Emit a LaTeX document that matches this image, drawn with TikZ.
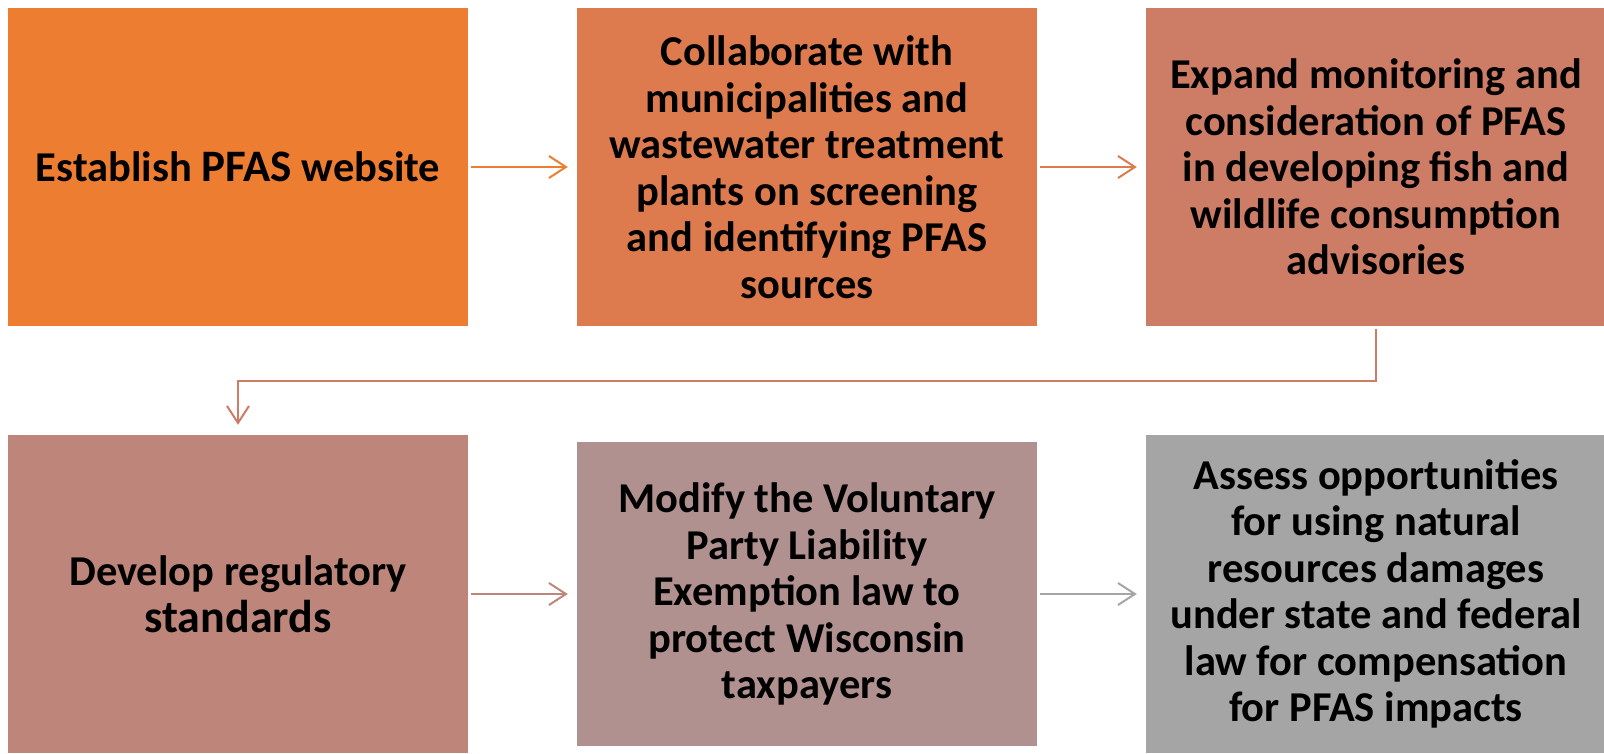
\documentclass[tikz,border=0pt]{standalone}
\usepackage{fontspec}
\setmainfont{Carlito}
\usetikzlibrary{arrows.meta}
\definecolor{cA}{RGB}{237,125,49}
\definecolor{cB}{RGB}{222,123,78}
\definecolor{cC}{RGB}{205,124,102}
\definecolor{cD}{RGB}{190,134,122}
\definecolor{cE}{RGB}{177,145,143}
\definecolor{cF}{RGB}{165,165,165}
\begin{document}
\begin{tikzpicture}[x=1pt,y=-1pt,
  box/.style={fill=#1, draw=none, minimum width=460pt, minimum height=318pt, inner sep=0pt,
    align=center, font=\fontsize{42.5}{46.5}\selectfont\bfseries},
  conn/.style={draw=#1, line width=2pt, -{Straight Barb[length=17pt,width=22pt,line width=2pt]}}]
\useasboundingbox (0,0) rectangle (1604,753);
\node[box=cA] (b1) at (238,167) {Establish {\fontsize{45}{46.5}\selectfont PFAS} website};
\node[box=cB] (b2) at (807,167) {Collaborate with\\municipalities and\\wastewater treatment\\plants on screening\\and identifying PFAS\\sources};
\node[box=cC] (b3) at (1376,167) {Expand monitoring and\\consideration of PFAS\\in developing fish and\\wildlife consumption\\advisories};
\node[box=cD] (b4) at (238,594) {Develop regulatory\\{\fontsize{46}{50}\selectfont standards}};
\node[box=cE, minimum height=304pt] (b5) at (807,594) {Modify the Voluntary\\Party Liability\\Exemption law to\\protect Wisconsin\\taxpayers};
\node[box=cF] (b6) at (1376,594) {Assess opportunities\\for using natural\\resources damages\\under state and federal\\law for compensation\\for PFAS impacts};
\draw[conn=cA, shorten <=3pt, shorten >=9pt] (b1.east) -- (b2.west);
\draw[conn=cB, shorten <=3pt, shorten >=9pt] (b2.east) -- (b3.west);
\coordinate (m1) at (1376,381);
\coordinate (m2) at (238,381);
\draw[conn=cC, shorten <=3pt, shorten >=10pt] (b3.south) -- (m1) -- (m2) -- (b4.north);
\draw[conn=cD, shorten <=3pt, shorten >=9pt] (b4.east) -- (b5.west);
\draw[conn=cF, shorten <=3pt, shorten >=9pt] (b5.east) -- (b6.west);
\end{tikzpicture}
\end{document}
